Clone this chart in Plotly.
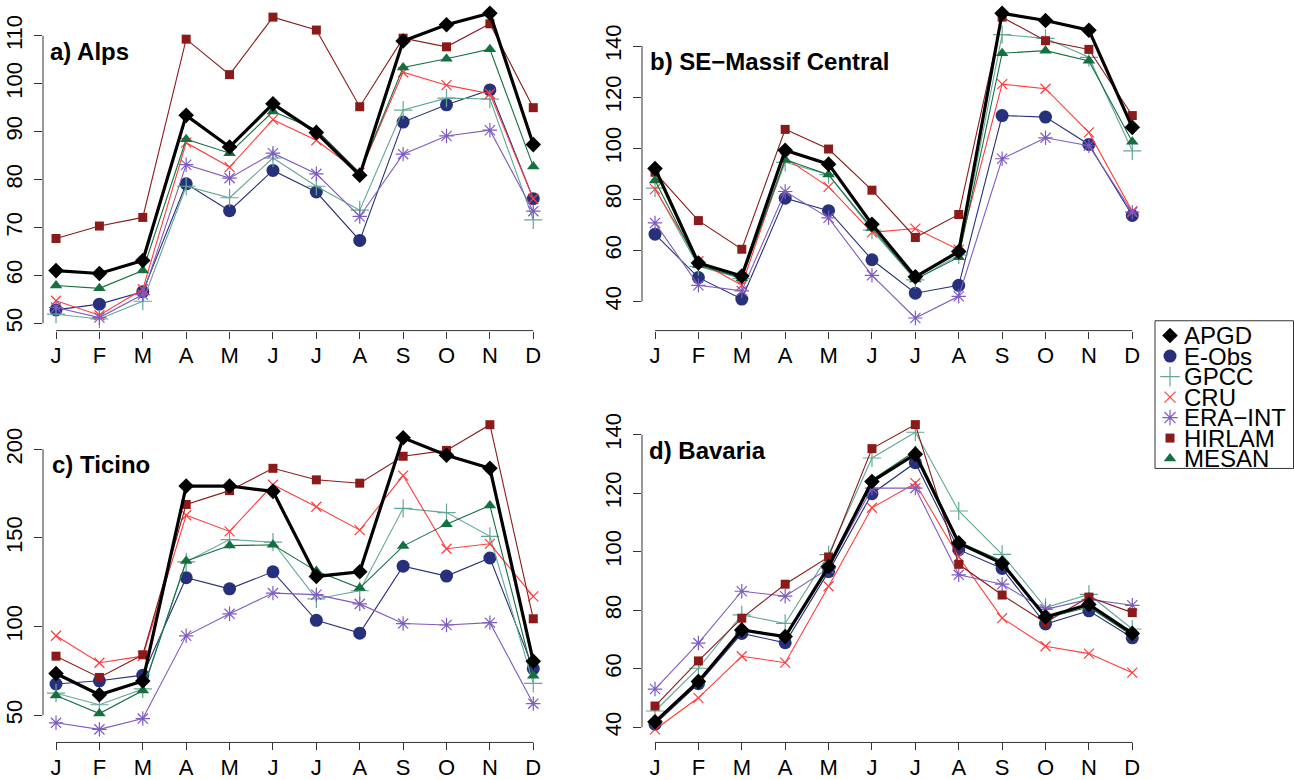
import plotly.graph_objects as go

# ---------------- data ----------------
MONTHS = ["J", "F", "M", "A", "M", "J", "J", "A", "S", "O", "N", "D"]
SERIES = ["APGD", "E-Obs", "GPCC", "CRU", "ERA\u2212INT", "HIRLAM", "MESAN"]
PANELS = ["a) Alps", "b) SE\u2212Massif Central", "c) Ticino", "d) Bavaria"]

alps_apgd   = [61.0, 60.4, 63.1, 93.4, 86.8, 95.8, 89.8, 80.9, 108.9, 112.3, 114.7, 87.3]
alps_eobs   = [52.8, 54.0, 56.6, 79.1, 73.5, 81.9, 77.4, 67.3, 92.0, 95.6, 98.7, 76.0]
alps_gpcc   = [51.9, 50.9, 54.6, 78.6, 76.2, 84.5, 78.6, 73.6, 94.5, 97.0, 96.8, 71.6]
alps_cru    = [54.7, 51.7, 57.1, 87.7, 82.6, 92.5, 88.2, 81.4, 102.4, 99.7, 97.9, 76.0]
alps_era    = [53.3, 51.2, 56.0, 83.1, 80.3, 85.5, 81.2, 72.3, 85.3, 89.1, 90.3, 73.4]
alps_hirlam = [67.7, 70.3, 72.1, 109.3, 101.9, 113.9, 111.2, 95.2, 109.5, 107.7, 112.5, 95.0]
alps_mesan  = [57.9, 57.3, 61.0, 88.4, 85.5, 94.2, 90.4, 81.4, 103.4, 105.2, 107.2, 82.7]

mc_apgd   = [92.1, 55.1, 50.0, 99.2, 93.8, 70.3, 49.7, 59.6, 152.8, 150.0, 146.2, 108.2]
mc_eobs   = [66.4, 49.4, 41.0, 80.5, 75.6, 56.4, 43.3, 46.4, 112.8, 112.2, 101.5, 73.7]
mc_gpcc   = [84.4, 53.8, 49.0, 94.5, 89.7, 68.0, 48.5, 58.3, 144.5, 143.0, 135.6, 99.0]
mc_cru    = [84.0, 55.8, 46.4, 96.2, 84.9, 67.1, 68.6, 60.3, 125.1, 123.3, 106.2, 75.4]
mc_era    = [70.8, 46.4, 44.2, 83.1, 72.8, 50.3, 33.6, 42.1, 95.9, 104.1, 101.0, 75.0]
mc_hirlam = [90.6, 71.7, 60.5, 107.4, 99.7, 83.6, 65.1, 74.1, 151.3, 142.1, 138.7, 112.8]
mc_mesan  = [87.4, 54.2, 49.2, 95.5, 89.7, 68.8, 48.7, 57.4, 137.2, 138.2, 134.2, 102.6]

ti_apgd   = [73.5, 61.5, 69.3, 179.3, 179.3, 176.3, 128.3, 130.9, 206.5, 196.7, 189.3, 80.4]
ti_eobs   = [67.6, 69.4, 72.6, 127.6, 121.3, 130.9, 103.5, 96.3, 134.1, 128.5, 138.7, 76.3]
ti_gpcc   = [62.4, 55.9, 64.8, 136.5, 149.1, 147.6, 115.6, 120.2, 166.7, 164.3, 150.9, 68.0]
ti_cru    = [94.8, 79.6, 83.3, 162.8, 153.7, 180.0, 167.6, 154.4, 185.2, 143.9, 146.7, 117.0]
ti_era    = [45.7, 42.0, 48.1, 94.8, 107.2, 118.9, 118.0, 112.8, 101.7, 100.9, 102.2, 56.5]
ti_hirlam = [83.3, 71.3, 84.1, 168.9, 176.7, 189.3, 182.8, 180.9, 196.1, 199.4, 213.9, 104.4]
ti_mesan  = [61.1, 50.9, 63.9, 137.0, 145.7, 146.1, 131.3, 121.7, 145.4, 157.8, 168.3, 72.2]

ba_apgd   = [41.9, 55.7, 73.3, 71.0, 94.9, 124.0, 133.3, 103.0, 96.0, 77.7, 82.0, 72.1]
ba_eobs   = [41.1, 54.9, 72.1, 68.9, 93.2, 119.8, 130.4, 100.7, 94.3, 75.3, 79.8, 70.6]
ba_gpcc   = [45.6, 60.2, 78.4, 75.5, 99.0, 132.0, 140.8, 113.9, 99.1, 80.9, 85.4, 73.6]
ba_cru    = [39.3, 50.1, 64.3, 62.1, 88.2, 115.0, 123.4, 98.2, 77.3, 67.7, 65.2, 58.7]
ba_era    = [53.1, 68.8, 86.5, 84.8, 94.3, 121.7, 121.7, 92.1, 88.9, 80.3, 83.7, 81.7]
ba_hirlam = [47.3, 62.7, 77.3, 88.9, 98.2, 135.2, 143.4, 95.7, 85.2, 75.8, 84.5, 79.2]
ba_mesan  = [41.5, 55.3, 73.6, 71.0, 94.5, 124.5, 134.4, 103.3, 96.8, 77.3, 81.1, 71.4]

YTICKS_A = [50, 60, 70, 80, 90, 100, 110]
YTICKS_B = [40, 60, 80, 100, 120, 140]
YTICKS_C = [50, 100, 150, 200]
YTICKS_D = [40, 60, 80, 100, 120, 140]

PANEL_DATA = [
    [alps_apgd, alps_eobs, alps_gpcc, alps_cru, alps_era, alps_hirlam, alps_mesan],
    [mc_apgd, mc_eobs, mc_gpcc, mc_cru, mc_era, mc_hirlam, mc_mesan],
    [ti_apgd, ti_eobs, ti_gpcc, ti_cru, ti_era, ti_hirlam, ti_mesan],
    [ba_apgd, ba_eobs, ba_gpcc, ba_cru, ba_era, ba_hirlam, ba_mesan],
]
PANEL_YTICKS = [YTICKS_A, YTICKS_B, YTICKS_C, YTICKS_D]

# ---------------- style ----------------
W, H = 1294, 780
FONT = "Liberation Sans, Arial, Helvetica, sans-serif"
AXC = "#333333"

STYLES = [
    dict(color="#000000", width=3.2, symbol="diamond", size=12, lw=0),
    dict(color="#27307a", width=1.1, symbol="circle", size=13, lw=0),
    dict(color="#62a895", width=1.1, symbol="cross-thin-open", size=13, lw=1.2),
    dict(color="#ff3b3b", width=1.1, symbol="x-thin-open", size=10, lw=1.2),
    dict(color="#7f5cbf", width=1.1, symbol="asterisk-open", size=12, lw=1.2),
    dict(color="#8b1a1a", width=1.1, symbol="square", size=9, lw=0),
    dict(color="#157040", width=1.1, symbol="triangle-up", size=11, lw=0),
]
DRAW_ORDER = [1, 2, 3, 4, 5, 6, 0]

# panel geometry in pixels: x-domain, y-domain (top, bottom), two y anchors
GEOM = [
    dict(xd=(43, 546.3), yd=(0, 331.7), a1=(110, 32.3), a2=(50, 324.3), title=(47.5, 48.0)),
    dict(xd=(642, 1145.3), yd=(0, 331.7), a1=(140, 42.7), a2=(40, 302.3), title=(648.0, 58.0)),
    dict(xd=(43, 546.3), yd=(420, 750), a1=(200, 452.3), a2=(50, 722.3), title=(49.5, 468.0)),
    dict(xd=(642, 1145.3), yd=(420, 750), a1=(140, 437.3), a2=(40, 734.7), title=(647.3, 453.0)),
]
XRANGE = [0.7, 12.3]


def px(x):
    return x / W


def py(y):
    return 1 - y / H


def yrange(g):
    (v1, p1), (v2, p2) = g["a1"], g["a2"]
    s = (v1 - v2) / (p2 - p1)
    top, bot = g["yd"]
    return [v2 - (bot - p2) * s, v1 + (p1 - top) * s]


fig = go.Figure()
xs = list(range(1, 13))
shapes = []
annotations = []

for i, (data, ticks, g) in enumerate(zip(PANEL_DATA, PANEL_YTICKS, GEOM)):
    n = i + 1
    xa = "x" if n == 1 else f"x{n}"
    ya = "y" if n == 1 else f"y{n}"
    for k in DRAW_ORDER:
        st = STYLES[k]
        fig.add_trace(go.Scatter(
            x=xs, y=data[k], xaxis=xa, yaxis=ya, mode="lines+markers",
            name=SERIES[k], showlegend=False, cliponaxis=False,
            line=dict(color=st["color"], width=st["width"]),
            marker=dict(symbol=st["symbol"], size=st["size"], color=st["color"],
                        line=dict(color=st["color"], width=st["lw"])),
            hoverinfo="skip",
        ))
    sfx = "" if n == 1 else str(n)
    fig.layout[f"xaxis{sfx}"] = dict(
        domain=[px(g["xd"][0]), px(g["xd"][1])], range=XRANGE, anchor=ya,
        tickvals=xs, ticktext=MONTHS, ticks="outside", ticklen=7, tickcolor=AXC,
        tickwidth=1, showline=False, showgrid=False, zeroline=False,
        tickfont=dict(family=FONT, size=22, color="#000"), fixedrange=True,
        ticklabelstandoff=-2,
    )
    fig.layout[f"yaxis{sfx}"] = dict(
        domain=[py(g["yd"][1]), py(g["yd"][0])], range=yrange(g), anchor=xa,
        tickvals=ticks, ticks="outside", ticklen=8, tickcolor=AXC, tickwidth=1,
        tickangle=-90, showline=False, showgrid=False, zeroline=False,
        tickfont=dict(family=FONT, size=22, color="#000"), fixedrange=True,
        ticklabelstandoff=3,
    )
    # R-style axis lines spanning first to last tick
    shapes.append(dict(type="line", xref=f"{xa} domain", yref=ya, x0=0, x1=0,
                       y0=min(ticks), y1=max(ticks), line=dict(color=AXC, width=1)))
    shapes.append(dict(type="line", xref=xa, yref=f"{ya} domain", x0=xs[0], x1=xs[-1],
                       y0=0, y1=0, line=dict(color=AXC, width=1)))
    annotations.append(dict(text=f"<b>{PANELS[i]}</b>", xref="paper", yref="paper",
                            x=px(g["title"][0]), y=py(g["title"][1]), xanchor="left",
                            yanchor="middle", showarrow=False,
                            font=dict(family=FONT, size=24, color="#000")))

# ---------------- legend (own axis) ----------------
LEG = dict(x0=1155, x1=1293.5, y0=321.7, y1=471.7, first=336.7, step=20.83)
leg_items = list(range(1, len(SERIES) + 1))
ltop = 1 - (LEG["first"] - LEG["y0"]) / LEG["step"]
lbot = 1 + (LEG["y1"] - LEG["first"]) / LEG["step"]
fig.layout["xaxis5"] = dict(domain=[px(LEG["x0"]), px(LEG["x1"])], range=[0, LEG["x1"] - LEG["x0"]],
                            visible=False, anchor="y5", fixedrange=True)
fig.layout["yaxis5"] = dict(domain=[py(LEG["y1"]), py(LEG["y0"])], range=[lbot, ltop],
                            visible=False, anchor="x5", fixedrange=True)
for k, st in enumerate(STYLES):
    fig.add_trace(go.Scatter(
        x=[15], y=[leg_items[k]], xaxis="x5", yaxis="y5", mode="markers",
        showlegend=False, cliponaxis=False, hoverinfo="skip",
        marker=dict(symbol=st["symbol"], size=st["size"] + (1 if st["lw"] else 0),
                    color=st["color"], line=dict(color=st["color"], width=st["lw"])),
    ))
    annotations.append(dict(text=SERIES[k], xref="x5", yref="y5", x=27, y=leg_items[k],
                            xanchor="left", yanchor="middle", showarrow=False,
                            font=dict(family=FONT, size=24, color="#000")))
shapes.append(dict(type="rect", xref="x5 domain", yref="y5 domain", x0=0, x1=1, y0=0, y1=1,
                   line=dict(color=AXC, width=1)))

fig.update_layout(
    width=W, height=H, margin=dict(l=0, r=0, t=0, b=0),
    paper_bgcolor="white", plot_bgcolor="white",
    shapes=shapes, annotations=annotations, showlegend=False,
)

fig.write_html("out.html")
